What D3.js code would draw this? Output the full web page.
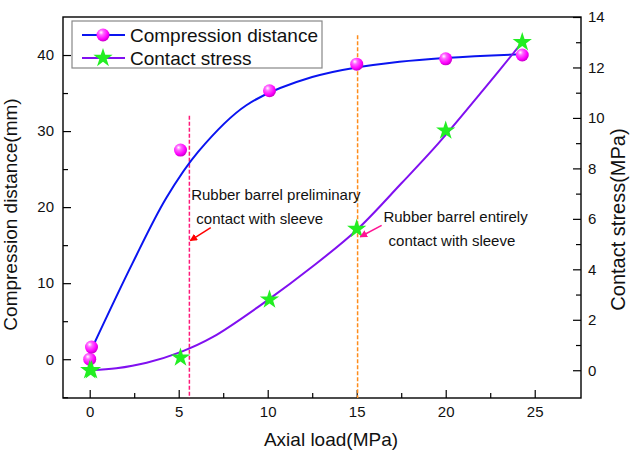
<!DOCTYPE html>
<html>
<head>
<meta charset="utf-8">
<script src="https://cdn.jsdelivr.net/npm/d3@7"></script>
<style>
  body { margin: 0; background: #fff; }
  text { font-family: "Liberation Sans", Arial, sans-serif; }
</style>
</head>
<body>
<div id="chart-area"></div>
<script>
const WIDTH = 631;
const HEIGHT = 454;

// measured points
const loadX = [0, 0.1, 5.1, 10.1, 15, 20, 24.3];
const distance = [0, 1.6, 27.5, 35.3, 38.8, 39.5, 40];
const stressX = [0, 0.1, 5.1, 10.1, 15, 20, 24.3];
const stress = [0, 0, 0.5, 2.8, 5.6, 9.5, 13];

// fitted curves
const distFitX = [0.2, 2.4, 4.3, 6.1, 8.8, 12.5, 17.4, 24.3];
const distFitY = [1.8, 12.6, 21.2, 27.3, 33.4, 37.1, 39.1, 40.1];
const stressFitX = [0.1, 1.5, 3.2, 5.1, 6.9, 10, 12.5, 15, 17.5, 19.6, 22.1, 24.3];
const stressFitY = [0.0, 0.08, 0.3, 0.72, 1.31, 2.78, 4.1, 5.56, 7.4, 9.0, 11.1, 13.0];

// ticks
const xTicks = [0, 5, 10, 15, 20, 25];
const xMinor = [2.5, 7.5, 12.5, 17.5, 22.5];
const yLeftTicks = [0, 10, 20, 30, 40];
const yLeftMinor = [-5, 5, 15, 25, 35];
const yRightTicks = [0, 2, 4, 6, 8, 10, 12, 14];
const yRightMinor = [1, 3, 5, 7, 9, 11, 13];

// event markers: x, top (left axis units)
const markers = [
  {x: 5.6, top: 32, color: "#ff1a7a"},
  {x: 15.05, top: 42.6, color: "#ff8c1a"}
];

const margin = {top: 17, right: 50, bottom: 56, left: 63};
const graphWidth = WIDTH - margin.left - margin.right;
const graphHeight = HEIGHT - margin.top - margin.bottom;

const svg = d3.select("#chart-area").append("svg")
  .attr("width", WIDTH)
  .attr("height", HEIGHT);

const defs = svg.append("defs");
const grad = defs.append("radialGradient")
  .attr("id", "ball")
  .attr("cx", "40%").attr("cy", "35%").attr("r", "65%")
  .attr("fx", "35%").attr("fy", "30%");
grad.append("stop").attr("offset", "0%").attr("stop-color", "#ffffff");
grad.append("stop").attr("offset", "30%").attr("stop-color", "#ff66ff");
grad.append("stop").attr("offset", "75%").attr("stop-color", "#ff00ff");
grad.append("stop").attr("offset", "100%").attr("stop-color", "#c800c8");

["red", "pink"].forEach((id, i) => {
  defs.append("marker")
    .attr("id", "arrow-" + id)
    .attr("viewBox", "0 0 10 10")
    .attr("refX", 9).attr("refY", 5)
    .attr("markerWidth", 5).attr("markerHeight", 5)
    .attr("orient", "auto")
    .append("path")
    .attr("d", "M0,0L10,5L0,10z")
    .attr("fill", i === 0 ? "#ff0000" : "#ff1493");
});

const graph = svg.append("g")
  .attr("transform", `translate(${margin.left}, ${margin.top})`);

// scales
const x = d3.scaleLinear().domain([-1.5, 27.6]).range([0, graphWidth]);
const yL = d3.scaleLinear().domain([-5.1, 45]).range([graphHeight, 0]);
const yR = d3.scaleLinear().domain([-1.1, 14]).range([graphHeight, 0]);

// axes
const styleAxis = g => {
  g.select(".domain").remove();
  g.selectAll("line").attr("stroke", "#000").attr("stroke-width", 1.2);
  g.selectAll("text").attr("font-size", "15px").attr("fill", "#111");
};

graph.append("g")
  .attr("transform", `translate(0, ${graphHeight})`)
  .call(d3.axisBottom(x).tickValues(xTicks).tickSize(-8).tickPadding(8))
  .call(styleAxis);
graph.append("g")
  .attr("transform", `translate(0, ${graphHeight})`)
  .call(d3.axisBottom(x).tickValues(xMinor).tickSize(-5).tickFormat(""))
  .call(styleAxis);

graph.append("g")
  .call(d3.axisLeft(yL).tickValues(yLeftTicks).tickSize(-8).tickPadding(9))
  .call(styleAxis);
graph.append("g")
  .call(d3.axisLeft(yL).tickValues(yLeftMinor).tickSize(-5).tickFormat(""))
  .call(styleAxis);

graph.append("g")
  .attr("transform", `translate(${graphWidth}, 0)`)
  .call(d3.axisRight(yR).tickValues(yRightTicks).tickSize(-8).tickPadding(7))
  .call(styleAxis);
graph.append("g")
  .attr("transform", `translate(${graphWidth}, 0)`)
  .call(d3.axisRight(yR).tickValues(yRightMinor).tickSize(-5).tickFormat(""))
  .call(styleAxis);

// frame
graph.append("rect")
  .attr("width", graphWidth)
  .attr("height", graphHeight)
  .attr("fill", "none")
  .attr("stroke", "#000")
  .attr("stroke-width", 1.4);

// axis labels
graph.append("text")
  .attr("x", graphWidth / 2 + 9)
  .attr("y", graphHeight + 48)
  .attr("font-size", "19px")
  .attr("text-anchor", "middle")
  .attr("fill", "#111")
  .text("Axial load(MPa)");

graph.append("text")
  .attr("transform", "rotate(-90)")
  .attr("x", -(graphHeight / 2) - 7)
  .attr("y", -46)
  .attr("font-size", "19px")
  .attr("text-anchor", "middle")
  .attr("fill", "#111")
  .text("Compression distance(mm)");

graph.append("text")
  .attr("transform", "rotate(-90)")
  .attr("x", -(graphHeight / 2) - 12)
  .attr("y", graphWidth + 44)
  .attr("font-size", "20px")
  .attr("text-anchor", "middle")
  .attr("fill", "#111")
  .text("Contact stress(MPa)");

// dashed markers
graph.selectAll(".marker").data(markers).enter().append("line")
  .attr("class", "marker")
  .attr("x1", d => x(d.x)).attr("x2", d => x(d.x))
  .attr("y1", d => yL(d.top)).attr("y2", graphHeight)
  .attr("stroke", d => d.color)
  .attr("stroke-width", 1.5)
  .attr("stroke-dasharray", "4,2");

// fit curves
const distLine = d3.line()
  .x((d, i) => x(distFitX[i]))
  .y(d => yL(d))
  .curve(d3.curveCatmullRom);
const stressLine = d3.line()
  .x((d, i) => x(stressFitX[i]))
  .y(d => yR(d))
  .curve(d3.curveCatmullRom);

graph.append("path")
  .attr("d", distLine(distFitY))
  .attr("fill", "none")
  .attr("stroke", "#0a14f0")
  .attr("stroke-width", 2);

graph.append("path")
  .attr("d", stressLine(stressFitY))
  .attr("fill", "none")
  .attr("stroke", "#8010f0")
  .attr("stroke-width", 2);

// markers
const star = d3.symbol().type(d3.symbolStar).size(115);

graph.selectAll(".ball").data(distance).enter().append("circle")
  .attr("class", "ball")
  .attr("cx", (d, i) => x(loadX[i]))
  .attr("cy", d => yL(d))
  .attr("r", 6.5)
  .attr("fill", "url(#ball)");

graph.selectAll(".star").data(stress).enter().append("path")
  .attr("class", "star")
  .attr("d", star)
  .attr("transform", (d, i) => `translate(${x(stressX[i])}, ${yR(d)})`)
  .attr("fill", "#22ee22");

// annotations
const notes = [
  {x: 5.7, y: 21.0, lines: ["Rubber barrel preliminary", " contact with sleeve"]},
  {x: 16.5, y: 18.1, lines: ["Rubber barrel entirely", " contact with sleeve"]}
];
notes.forEach(n => {
  n.lines.forEach((t, i) => {
    graph.append("text")
      .attr("x", x(n.x) + (i ? 1 : 0))
      .attr("y", yL(n.y) + i * 24)
      .attr("font-size", "15px")
      .attr("fill", "#111")
      .attr("xml:space", "preserve")
      .text(t);
  });
});

// arrows
graph.append("line")
  .attr("x1", x(6.8)).attr("y1", yL(17.3))
  .attr("x2", x(5.65)).attr("y2", yL(15.6))
  .attr("stroke", "#ff0000").attr("stroke-width", 1.5)
  .attr("marker-end", "url(#arrow-red)");
graph.append("line")
  .attr("x1", x(16.4)).attr("y1", yL(17.6))
  .attr("x2", x(15.2)).attr("y2", yL(16.1))
  .attr("stroke", "#ff1493").attr("stroke-width", 1.5)
  .attr("marker-end", "url(#arrow-pink)");

// legend
const legend = graph.append("g").attr("transform", "translate(9, 4)");
legend.append("rect")
  .attr("width", 250).attr("height", 47)
  .attr("fill", "#fff")
  .attr("stroke", "#888")
  .attr("stroke-width", 1.2);

const legendItems = [
  {name: "Compression distance", color: "#0a14f0", mark: "ball"},
  {name: "Contact stress", color: "#8010f0", mark: "star"}
];
legendItems.forEach((d, i) => {
  const row = legend.append("g").attr("transform", `translate(0, ${14 + i * 23})`);
  row.append("line")
    .attr("x1", 10).attr("x2", 53)
    .attr("stroke", d.color).attr("stroke-width", 2);
  if (d.mark === "ball") {
    row.append("circle").attr("cx", 31).attr("r", 6.5).attr("fill", "url(#ball)");
  } else {
    row.append("path").attr("d", star).attr("transform", "translate(31, 0)").attr("fill", "#22ee22");
  }
  row.append("text")
    .attr("x", 58).attr("y", 7)
    .attr("font-size", "19px")
    .attr("fill", "#111")
    .text(d.name);
});
</script>
</body>
</html>
